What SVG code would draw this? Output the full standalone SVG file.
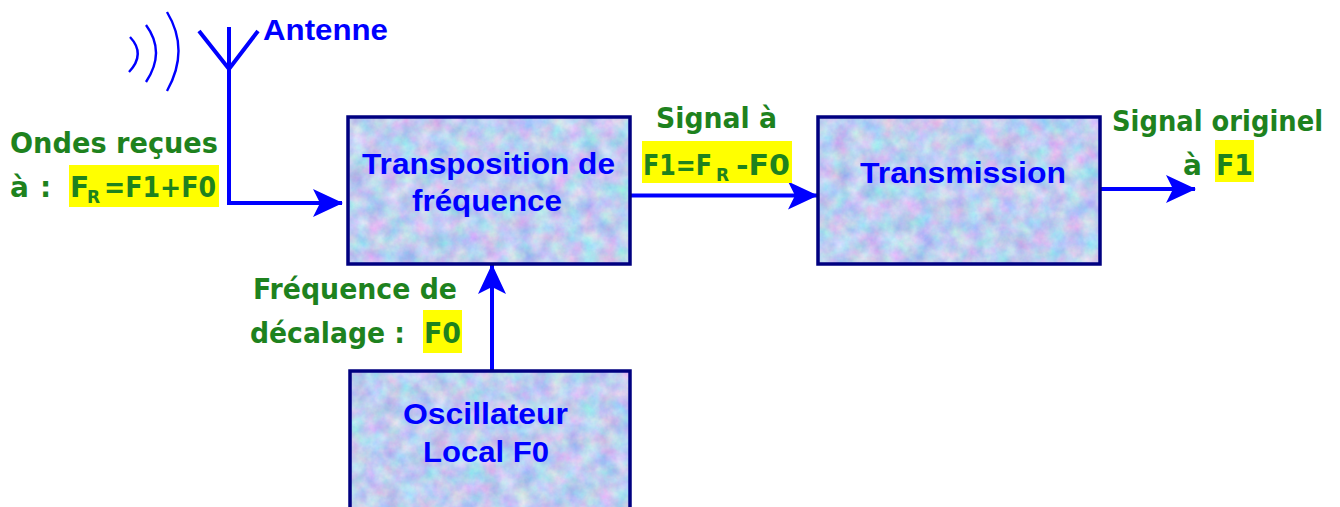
<svg xmlns="http://www.w3.org/2000/svg" width="1340" height="507" viewBox="0 0 1340 507">
<defs>
<filter id="tex" x="0" y="0" width="100%" height="100%" color-interpolation-filters="sRGB">
<feTurbulence type="fractalNoise" baseFrequency="0.06" numOctaves="4" seed="7" result="n"/>
<feColorMatrix in="n" type="matrix" values="0.45 0 0 0 0.52  0 0.35 0 0 0.63  0 0 0.14 0 0.87  0 0 0 0 1" result="c"/>
<feComposite in="c" in2="SourceGraphic" operator="in"/>
</filter>
<marker id="ah" markerUnits="userSpaceOnUse" viewBox="0 0 30 28" refX="29" refY="14" markerWidth="30" markerHeight="28" orient="auto">
<path d="M0,0 L30,14 L0,28 L7,14 Z" fill="#0000ff"/>
</marker>
</defs>
<style>
.box{stroke:#000080;stroke-width:3.5;fill:none}
.bt{font-family:"Liberation Sans",Arial,sans-serif;font-weight:bold;font-size:30px;fill:#0000ff}
.gt{font-family:"Comic Sans MS","DejaVu Sans",sans-serif;font-weight:bold;font-size:28px;fill:#1e821e}
.sub{font-size:17px}
.hl{fill:#ffff00}
.ln{stroke:#0000ff;stroke-width:4;fill:none}
.wv{stroke:#0000ff;stroke-width:2.4;fill:none}
</style>
<rect width="1340" height="507" fill="#ffffff"/>

<g id="connectors">
<polyline class="ln" points="229,27 229,203 342,203" marker-end="url(#ah)"/>
<line class="ln" x1="630" y1="195.5" x2="817" y2="195.5" marker-end="url(#ah)"/>
<line class="ln" x1="1100" y1="189" x2="1195" y2="189" marker-end="url(#ah)"/>
<line class="ln" x1="492" y1="371" x2="492" y2="265" marker-end="url(#ah)"/>
</g>

<g id="antenne">
<polyline class="ln" points="199,31 229,69 258,31"/>
<path class="wv" d="M130,37 Q146,54 129,72"/>
<path class="wv" d="M146,25 Q166,52 146,82"/>
<path class="wv" d="M167,12 Q190,50 167,91"/>
<text class="bt" x="263" y="40" textLength="125" lengthAdjust="spacingAndGlyphs">Antenne</text>
</g>

<g id="transposition">
<rect x="348" y="117" width="282" height="147" fill="#000" filter="url(#tex)"/>
<rect class="box" x="348" y="117" width="282" height="147"/>
<text class="bt" x="362" y="174" textLength="253" lengthAdjust="spacingAndGlyphs">Transposition de</text>
<text class="bt" x="412" y="211" textLength="150" lengthAdjust="spacingAndGlyphs">fréquence</text>
</g>

<g id="transmission">
<rect x="818" y="117" width="282" height="147" fill="#000" filter="url(#tex)"/>
<rect class="box" x="818" y="117" width="282" height="147"/>
<text class="bt" x="860" y="183" textLength="206" lengthAdjust="spacingAndGlyphs">Transmission</text>
</g>

<g id="oscillateur">
<rect x="350" y="371" width="280" height="150" fill="#000" filter="url(#tex)"/>
<rect class="box" x="350" y="371" width="280" height="150"/>
<text class="bt" x="403" y="424" textLength="165" lengthAdjust="spacingAndGlyphs">Oscillateur</text>
<text class="bt" x="423" y="462" textLength="126" lengthAdjust="spacingAndGlyphs">Local F0</text>
</g>

<g id="label-ondes">
<text class="gt" x="10" y="153" textLength="208" lengthAdjust="spacingAndGlyphs">Ondes reçues</text>
<text class="gt" x="10 40" y="197">à:</text>
<rect class="hl" x="69" y="165" width="150" height="42"/>
<text class="gt" x="70" y="197">F<tspan class="sub" x="87" y="203">R</tspan><tspan x="104" y="197" textLength="112" lengthAdjust="spacingAndGlyphs">=F1+F0</tspan></text>
</g>

<g id="label-signal">
<text class="gt" x="656" y="128" textLength="121" lengthAdjust="spacingAndGlyphs">Signal à</text>
<rect class="hl" x="642" y="141" width="150" height="42"/>
<text class="gt" x="643" y="175"><tspan textLength="69" lengthAdjust="spacingAndGlyphs">F1=F</tspan><tspan class="sub" x="716" y="181">R</tspan><tspan x="736" y="175" textLength="54" lengthAdjust="spacingAndGlyphs">-F0</tspan></text>
</g>

<g id="label-original">
<text class="gt" x="1112" y="131" textLength="211" lengthAdjust="spacingAndGlyphs">Signal originel</text>
<text class="gt" x="1183" y="175">à</text>
<rect class="hl" x="1215" y="140" width="39" height="42"/>
<text class="gt" x="1216" y="175" textLength="37" lengthAdjust="spacingAndGlyphs">F1</text>
</g>

<g id="label-decalage">
<text class="gt" x="253" y="299" textLength="204" lengthAdjust="spacingAndGlyphs">Fréquence de</text>
<text class="gt" x="250" y="343" textLength="155" lengthAdjust="spacingAndGlyphs">décalage :</text>
<rect class="hl" x="423" y="310" width="39" height="43"/>
<text class="gt" x="424" y="343" textLength="37" lengthAdjust="spacingAndGlyphs">F0</text>
</g>
</svg>
